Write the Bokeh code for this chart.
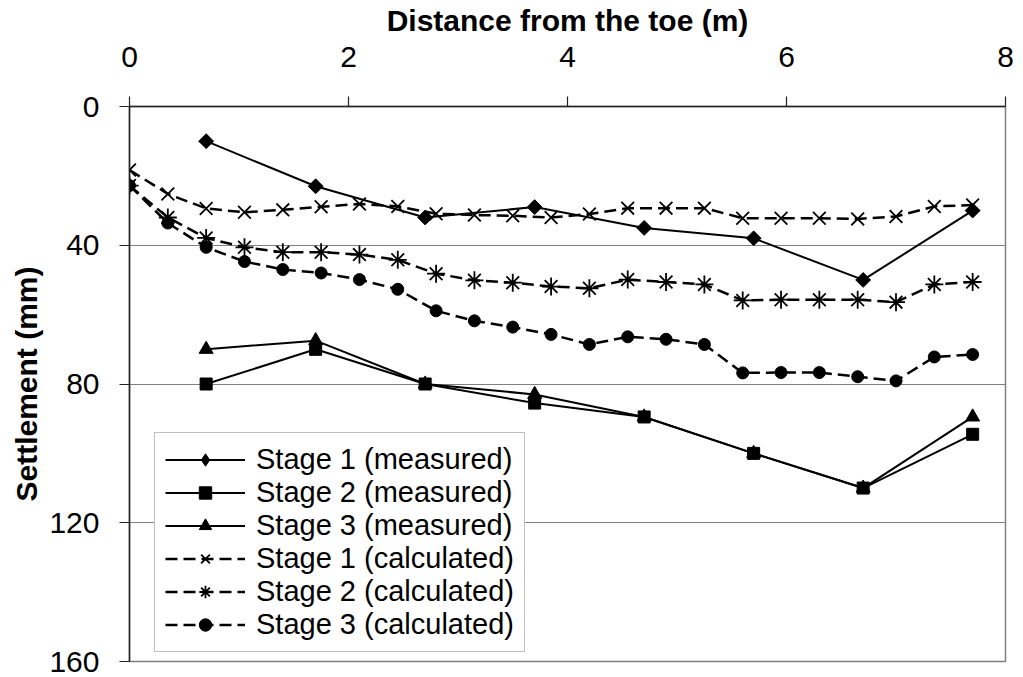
import numpy as np
from bokeh.plotting import figure
from bokeh.models import Range1d, FixedTicker, Legend, LegendItem
from bokeh.embed import file_html
from bokeh.resources import INLINE

# ---------------- data ----------------
x_measured = [0.7, 1.7, 2.7, 3.7, 4.7, 5.7, 6.7, 7.7]
stage1_measured = [10, 23, 32, 29, 35, 38, 50, 30]
stage2_measured = [80, 70, 80, 85.5, 89.5, 100, 110, 94.5]
stage3_measured = [70, 67.5, 80, 83, 89.5, 100, 110, 89.5]

x_calculated = [0.0, 0.35, 0.7, 1.05, 1.4, 1.75, 2.1, 2.45, 2.8, 3.15, 3.5, 3.85,
                4.2, 4.55, 4.9, 5.25, 5.6, 5.95, 6.3, 6.65, 7.0, 7.35, 7.7]
stage1_calculated = [18.3, 25.2, 29.4, 30.5, 29.8, 28.9, 28.1, 28.8, 30.9, 31.3, 31.5, 32.0,
                     31.0, 29.3, 29.3, 29.3, 32.2, 32.2, 32.2, 32.4, 31.7, 28.8, 28.4]
stage2_calculated = [22.8, 32.0, 37.9, 40.6, 42.0, 42.0, 42.7, 44.2, 48.2, 50.1, 50.8, 51.9,
                     52.4, 49.9, 50.6, 51.3, 55.9, 55.7, 55.7, 55.7, 56.4, 51.3, 50.6]
stage3_calculated = [22.8, 33.6, 40.6, 44.7, 47.0, 48.0, 49.9, 52.7, 58.9, 61.8, 63.6, 65.7,
                     68.6, 66.4, 67.1, 68.6, 76.8, 76.7, 76.7, 77.9, 79.1, 72.2, 71.5]

x_ticks = [0, 2, 4, 6, 8]
y_ticks = [0, 40, 80, 120, 160]

labels = ["Stage 1 (measured)", "Stage 2 (measured)", "Stage 3 (measured)",
          "Stage 1 (calculated)", "Stage 2 (calculated)", "Stage 3 (calculated)"]

FONT = "Liberation Sans"

p = figure(width=1015, height=676,
           x_range=Range1d(0, 8), y_range=Range1d(160, 0),
           x_axis_location="above",
           output_backend="svg", toolbar_location=None,
           min_border_left=129, min_border_right=10,
           min_border_top=106, min_border_bottom=15)

p.background_fill_color = "white"
p.border_fill_color = "white"
p.outline_line_color = "#808080"
p.outline_line_width = 1.5

# axes
for ax in (p.xaxis[0], p.yaxis[0]):
    ax.major_label_text_font = FONT
    ax.major_label_text_font_size = "30px"
    ax.major_label_text_color = "black"
    ax.axis_label_text_font = FONT
    ax.axis_label_text_font_size = "30px"
    ax.axis_label_text_font_style = "bold"
    ax.axis_label_text_color = "black"
    ax.axis_line_color = "#222222"
    ax.axis_line_width = 1.5
    ax.major_tick_line_color = "#222222"
    ax.major_tick_line_width = 1.2
    ax.major_tick_out = 10
    ax.major_tick_in = 0
    ax.minor_tick_line_color = None

p.xaxis.axis_label = "Distance from the toe (m)"
p.yaxis.axis_label = "Settlement (mm)"
p.xaxis.ticker = FixedTicker(ticks=x_ticks)
p.yaxis.ticker = FixedTicker(ticks=y_ticks)
p.xaxis.major_label_standoff = 30
p.xaxis.axis_label_standoff = 7
p.yaxis.major_label_standoff = 20
p.yaxis.axis_label_standoff = 3

p.xgrid.grid_line_color = None
p.ygrid.ticker = FixedTicker(ticks=y_ticks)
p.ygrid.grid_line_color = "#808080"
p.ygrid.grid_line_width = 1.2

items = []

def add_series(xs, ys, label, marker, dash, lw, size, angle=0.0, fill=True, mlw=1.0,
               legend_marker=None):
    r_line = p.line(xs, ys, line_color="black", line_width=lw, line_dash=dash)
    r_mark = p.scatter(xs, ys, marker=marker, size=size, angle=angle,
                       line_color="black", fill_color="black" if fill else None,
                       line_width=mlw)
    if legend_marker is not None:
        # zero-size twin renderer: invisible in the plot, drawn as a diamond in the legend
        r_leg = p.scatter(xs, ys, marker=legend_marker, size=0,
                          line_color="black", fill_color="black", line_width=mlw)
        items.append(LegendItem(label=label, renderers=[r_line, r_leg]))
    else:
        items.append(LegendItem(label=label, renderers=[r_line, r_mark]))

add_series(x_measured, stage1_measured, labels[0], "square", "solid", 2, 10.5,
           angle=np.pi / 4, legend_marker="diamond")
add_series(x_measured, stage2_measured, labels[1], "square", "solid", 2, 12)
add_series(x_measured, stage3_measured, labels[2], "triangle", "solid", 2, 14)
add_series(x_calculated, stage1_calculated, labels[3], "x", "12 6", 2.5, 18, fill=False, mlw=1.8)
add_series(x_calculated, stage2_calculated, labels[4], "asterisk", "12 6", 2.5, 18, fill=False, mlw=1.8)
add_series(x_calculated, stage3_calculated, labels[5], "circle", "12 6", 2.5, 12)

legend = Legend(items=items, location=(25, 9))
legend.label_text_font = FONT
legend.label_text_font_size = "29px"
legend.label_text_color = "black"
legend.glyph_width = 80
legend.glyph_height = 31
legend.label_height = 31
legend.label_standoff = 11
legend.spacing = 0
legend.padding = 10
legend.margin = 0
legend.border_line_color = "#808080"
legend.border_line_width = 1.5
legend.background_fill_color = "white"
legend.background_fill_alpha = 1.0
p.add_layout(legend)

open("out.html", "w").write(file_html(p, INLINE))
